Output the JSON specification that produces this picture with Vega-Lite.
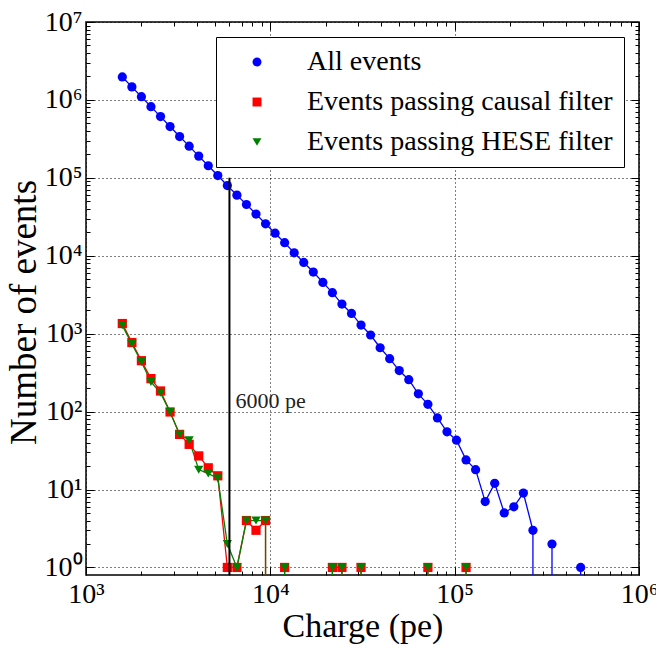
{
  "$schema": "https://vega.github.io/schema/vega-lite/v6.json",
  "width": 553,
  "height": 553,
  "autosize": "none",
  "padding": {"left": 86, "top": 22, "right": 17, "bottom": 73},
  "background": "white",
  "config": {
    "font": "Liberation Serif",
    "view": {"stroke": "black", "strokeWidth": 1.5},
    "axis": {
      "domain": false,
      "labelFont": "Liberation Serif",
      "titleFont": "Liberation Serif",
      "labelColor": "black",
      "titleColor": "black",
      "tickColor": "black",
      "tickWidth": 1,
      "titleFontWeight": "normal",
      "gridColor": "black",
      "gridDash": [1, 3],
      "gridOpacity": 1,
      "gridWidth": 1,
      "labelOverlap": false,
      "labelFlush": false
    },
    "legend": {
      "labelFont": "Liberation Serif", "labelColor": "black",
      "orient": "none", "legendX": 130, "legendY": 15, "title": null,
      "labelFontSize": 28, "padding": 11, "rowPadding": 12,
      "strokeColor": "black", "fillColor": "white", "cornerRadius": 0,
      "symbolSize": 80, "symbolOffset": 16, "labelOffset": 36, "labelLimit": 400,
      "symbolStrokeWidth": 0
    }
  },
  "data": {
    "values": [
      {"series": "All events", "bin": 0, "charge": 1574, "count": 1970000},
      {"series": "All events", "bin": 1, "charge": 1774, "count": 1470000},
      {"series": "All events", "bin": 2, "charge": 1998, "count": 1100000},
      {"series": "All events", "bin": 3, "charge": 2251, "count": 820000},
      {"series": "All events", "bin": 4, "charge": 2537, "count": 611000},
      {"series": "All events", "bin": 5, "charge": 2858, "count": 455000},
      {"series": "All events", "bin": 6, "charge": 3220, "count": 339000},
      {"series": "All events", "bin": 7, "charge": 3628, "count": 255000},
      {"series": "All events", "bin": 8, "charge": 4088, "count": 190000},
      {"series": "All events", "bin": 9, "charge": 4606, "count": 143000},
      {"series": "All events", "bin": 10, "charge": 5188, "count": 107000},
      {"series": "All events", "bin": 11, "charge": 5846, "count": 79600},
      {"series": "All events", "bin": 12, "charge": 6587, "count": 60000},
      {"series": "All events", "bin": 13, "charge": 7421, "count": 45500},
      {"series": "All events", "bin": 14, "charge": 8362, "count": 34300},
      {"series": "All events", "bin": 15, "charge": 9419, "count": 25700},
      {"series": "All events", "bin": 16, "charge": 10612, "count": 19500},
      {"series": "All events", "bin": 17, "charge": 11957, "count": 14700},
      {"series": "All events", "bin": 18, "charge": 13472, "count": 10900},
      {"series": "All events", "bin": 19, "charge": 15180, "count": 8200},
      {"series": "All events", "bin": 20, "charge": 17100, "count": 6180},
      {"series": "All events", "bin": 21, "charge": 19270, "count": 4550},
      {"series": "All events", "bin": 22, "charge": 21710, "count": 3360},
      {"series": "All events", "bin": 23, "charge": 24460, "count": 2400},
      {"series": "All events", "bin": 24, "charge": 27560, "count": 1820},
      {"series": "All events", "bin": 25, "charge": 31050, "count": 1290},
      {"series": "All events", "bin": 26, "charge": 34990, "count": 962},
      {"series": "All events", "bin": 27, "charge": 39420, "count": 660},
      {"series": "All events", "bin": 28, "charge": 44410, "count": 478},
      {"series": "All events", "bin": 29, "charge": 50040, "count": 336},
      {"series": "All events", "bin": 30, "charge": 56380, "count": 257},
      {"series": "All events", "bin": 31, "charge": 63530, "count": 169},
      {"series": "All events", "bin": 32, "charge": 71570, "count": 124},
      {"series": "All events", "bin": 33, "charge": 80640, "count": 83},
      {"series": "All events", "bin": 34, "charge": 90860, "count": 55},
      {"series": "All events", "bin": 35, "charge": 102300, "count": 43},
      {"series": "All events", "bin": 36, "charge": 115300, "count": 24},
      {"series": "All events", "bin": 37, "charge": 129900, "count": 18},
      {"series": "All events", "bin": 38, "charge": 146400, "count": 7},
      {"series": "All events", "bin": 39, "charge": 164900, "count": 12},
      {"series": "All events", "bin": 40, "charge": 185800, "count": 5},
      {"series": "All events", "bin": 41, "charge": 209400, "count": 6},
      {"series": "All events", "bin": 42, "charge": 235900, "count": 9},
      {"series": "All events", "bin": 43, "charge": 265800, "count": 3},
      {"series": "All events", "bin": 44, "charge": 299400, "count": null},
      {"series": "All events", "bin": 45, "charge": 337300, "count": 2},
      {"series": "All events", "bin": 46, "charge": 380100, "count": null},
      {"series": "All events", "bin": 47, "charge": 428200, "count": null},
      {"series": "All events", "bin": 48, "charge": 482500, "count": 1},

      {"series": "Events passing causal filter", "bin": 0, "charge": 1574, "count": 1350},
      {"series": "Events passing causal filter", "bin": 1, "charge": 1774, "count": 770},
      {"series": "Events passing causal filter", "bin": 2, "charge": 1998, "count": 450},
      {"series": "Events passing causal filter", "bin": 3, "charge": 2251, "count": 265},
      {"series": "Events passing causal filter", "bin": 4, "charge": 2537, "count": 184},
      {"series": "Events passing causal filter", "bin": 5, "charge": 2858, "count": 99},
      {"series": "Events passing causal filter", "bin": 6, "charge": 3220, "count": 51},
      {"series": "Events passing causal filter", "bin": 7, "charge": 3628, "count": 38},
      {"series": "Events passing causal filter", "bin": 8, "charge": 4088, "count": 27},
      {"series": "Events passing causal filter", "bin": 9, "charge": 4606, "count": 19},
      {"series": "Events passing causal filter", "bin": 10, "charge": 5188, "count": 15},
      {"series": "Events passing causal filter", "bin": 11, "charge": 5846, "count": 1},
      {"series": "Events passing causal filter", "bin": 12, "charge": 6587, "count": 1},
      {"series": "Events passing causal filter", "bin": 13, "charge": 7421, "count": 4},
      {"series": "Events passing causal filter", "bin": 14, "charge": 8362, "count": 3},
      {"series": "Events passing causal filter", "bin": 15, "charge": 9419, "count": 4},
      {"series": "Events passing causal filter", "bin": 16, "charge": 10612, "count": null},
      {"series": "Events passing causal filter", "bin": 17, "charge": 11957, "count": 1},
      {"series": "Events passing causal filter", "bin": 18, "charge": 13472, "count": null},
      {"series": "Events passing causal filter", "bin": 19, "charge": 15180, "count": null},
      {"series": "Events passing causal filter", "bin": 20, "charge": 17100, "count": null},
      {"series": "Events passing causal filter", "bin": 21, "charge": 19270, "count": null},
      {"series": "Events passing causal filter", "bin": 22, "charge": 21710, "count": 1},
      {"series": "Events passing causal filter", "bin": 23, "charge": 24460, "count": 1},
      {"series": "Events passing causal filter", "bin": 24, "charge": 27560, "count": null},
      {"series": "Events passing causal filter", "bin": 25, "charge": 31050, "count": 1},
      {"series": "Events passing causal filter", "bin": 26, "charge": 34990, "count": null},
      {"series": "Events passing causal filter", "bin": 27, "charge": 39420, "count": null},
      {"series": "Events passing causal filter", "bin": 28, "charge": 44410, "count": null},
      {"series": "Events passing causal filter", "bin": 29, "charge": 50040, "count": null},
      {"series": "Events passing causal filter", "bin": 30, "charge": 56380, "count": null},
      {"series": "Events passing causal filter", "bin": 31, "charge": 63530, "count": null},
      {"series": "Events passing causal filter", "bin": 32, "charge": 71570, "count": 1},
      {"series": "Events passing causal filter", "bin": 33, "charge": 80640, "count": null},
      {"series": "Events passing causal filter", "bin": 34, "charge": 90860, "count": null},
      {"series": "Events passing causal filter", "bin": 35, "charge": 102300, "count": null},
      {"series": "Events passing causal filter", "bin": 36, "charge": 115300, "count": 1},

      {"series": "Events passing HESE filter", "bin": 0, "charge": 1574, "count": 1280},
      {"series": "Events passing HESE filter", "bin": 1, "charge": 1774, "count": 740},
      {"series": "Events passing HESE filter", "bin": 2, "charge": 1998, "count": 434},
      {"series": "Events passing HESE filter", "bin": 3, "charge": 2251, "count": 240},
      {"series": "Events passing HESE filter", "bin": 4, "charge": 2537, "count": 174},
      {"series": "Events passing HESE filter", "bin": 5, "charge": 2858, "count": 99},
      {"series": "Events passing HESE filter", "bin": 6, "charge": 3220, "count": 51},
      {"series": "Events passing HESE filter", "bin": 7, "charge": 3628, "count": 43},
      {"series": "Events passing HESE filter", "bin": 8, "charge": 4088, "count": 18},
      {"series": "Events passing HESE filter", "bin": 9, "charge": 4606, "count": 16},
      {"series": "Events passing HESE filter", "bin": 10, "charge": 5188, "count": 14},
      {"series": "Events passing HESE filter", "bin": 11, "charge": 5846, "count": 2},
      {"series": "Events passing HESE filter", "bin": 12, "charge": 6587, "count": 1},
      {"series": "Events passing HESE filter", "bin": 13, "charge": 7421, "count": 4},
      {"series": "Events passing HESE filter", "bin": 14, "charge": 8362, "count": 4},
      {"series": "Events passing HESE filter", "bin": 15, "charge": 9419, "count": 4},
      {"series": "Events passing HESE filter", "bin": 16, "charge": 10612, "count": null},
      {"series": "Events passing HESE filter", "bin": 17, "charge": 11957, "count": 1},
      {"series": "Events passing HESE filter", "bin": 18, "charge": 13472, "count": null},
      {"series": "Events passing HESE filter", "bin": 19, "charge": 15180, "count": null},
      {"series": "Events passing HESE filter", "bin": 20, "charge": 17100, "count": null},
      {"series": "Events passing HESE filter", "bin": 21, "charge": 19270, "count": null},
      {"series": "Events passing HESE filter", "bin": 22, "charge": 21710, "count": 1},
      {"series": "Events passing HESE filter", "bin": 23, "charge": 24460, "count": 1},
      {"series": "Events passing HESE filter", "bin": 24, "charge": 27560, "count": null},
      {"series": "Events passing HESE filter", "bin": 25, "charge": 31050, "count": 1},
      {"series": "Events passing HESE filter", "bin": 26, "charge": 34990, "count": null},
      {"series": "Events passing HESE filter", "bin": 27, "charge": 39420, "count": null},
      {"series": "Events passing HESE filter", "bin": 28, "charge": 44410, "count": null},
      {"series": "Events passing HESE filter", "bin": 29, "charge": 50040, "count": null},
      {"series": "Events passing HESE filter", "bin": 30, "charge": 56380, "count": null},
      {"series": "Events passing HESE filter", "bin": 31, "charge": 63530, "count": null},
      {"series": "Events passing HESE filter", "bin": 32, "charge": 71570, "count": 1},
      {"series": "Events passing HESE filter", "bin": 33, "charge": 80640, "count": null},
      {"series": "Events passing HESE filter", "bin": 34, "charge": 90860, "count": null},
      {"series": "Events passing HESE filter", "bin": 35, "charge": 102300, "count": null},
      {"series": "Events passing HESE filter", "bin": 36, "charge": 115300, "count": 1}
    ]
  },
  "resolve": {"axis": {"x": "independent", "y": "independent"}},
  "layer": [
    {
      "mark": {"type": "line", "strokeWidth": 1.3, "clip": true},
      "encoding": {
        "x": {
          "field": "charge", "type": "quantitative",
          "scale": {"type": "log", "domain": [1000, 1000000], "nice": false},
          "axis": {
            "orient": "bottom", "values": [1000, 10000, 100000, 1000000],
            "labelExpr": "'10' + ['⁰','¹','²','³','⁴','⁵','⁶','⁷'][round(log(datum.value)/LN10)]",
            "grid": true, "tickSize": -8, "labelFontSize": 28, "labelPadding": 13,
            "title": "Charge (pe)", "titleFontSize": 34, "titlePadding": 1
          }
        },
        "y": {
          "field": "count", "type": "quantitative",
          "scale": {"type": "log", "domain": [0.8, 10000000], "nice": false},
          "axis": {
            "orient": "left", "values": [1, 10, 100, 1000, 10000, 100000, 1000000, 10000000],
            "labelExpr": "'10' + ['⁰','¹','²','³','⁴','⁵','⁶','⁷'][round(log(datum.value)/LN10)]",
            "grid": true, "tickSize": -8, "labelFontSize": 28, "labelPadding": 12,
            "title": "Number of events", "titleFontSize": 37,
            "titleX": -51, "titleY": 290, "titleBaseline": "alphabetic", "titleAlign": "center", "titleAngle": -90
          }
        },
        "stroke": {
          "field": "series", "type": "nominal",
          "scale": {"domain": ["All events", "Events passing causal filter", "Events passing HESE filter"], "range": ["#0000ff", "#ff0000", "#008000"]}
        }
      }
    },
    {
      "mark": {"type": "point", "filled": true, "opacity": 1, "size": 85, "clip": true},
      "encoding": {
        "x": {
          "field": "charge", "type": "quantitative",
          "scale": {"type": "log", "domain": [1000, 1000000], "nice": false},
          "axis": {
            "orient": "bottom", "values": [2000,3000,4000,5000,6000,7000,8000,9000,20000,30000,40000,50000,60000,70000,80000,90000,200000,300000,400000,500000,600000,700000,800000,900000],
            "labels": false, "grid": false, "tickSize": -4, "title": null
          }
        },
        "y": {
          "field": "count", "type": "quantitative",
          "scale": {"type": "log", "domain": [0.8, 10000000], "nice": false},
          "axis": {
            "orient": "left", "values": [2,3,4,5,6,7,8,9,20,30,40,50,60,70,80,90,200,300,400,500,600,700,800,900,2000,3000,4000,5000,6000,7000,8000,9000,20000,30000,40000,50000,60000,70000,80000,90000,200000,300000,400000,500000,600000,700000,800000,900000,2000000,3000000,4000000,5000000,6000000,7000000,8000000,9000000],
            "labels": false, "grid": false, "tickSize": -4, "title": null
          }
        },
        "color": {
          "field": "series", "type": "nominal",
          "scale": {"domain": ["All events", "Events passing causal filter", "Events passing HESE filter"], "range": ["#0000ff", "#ff0000", "#008000"]}
        },
        "shape": {
          "field": "series", "type": "nominal",
          "scale": {"domain": ["All events", "Events passing causal filter", "Events passing HESE filter"], "range": ["circle", "square", "triangle-down"]}
        },
        "order": {"field": "series", "sort": "descending"}
      }
    },
    {
      "transform": [
        {"window": [{"op": "lag", "field": "count", "as": "prev"}, {"op": "lead", "field": "count", "as": "next"}], "groupby": ["series"], "sort": [{"field": "bin"}]},
        {"filter": "datum.count != null && ((datum.prev == null && datum.bin > 0) || datum.next == null)"}
      ],
      "mark": {"type": "rule", "strokeWidth": 1.3, "clip": true},
      "encoding": {
        "x": {
          "field": "charge", "type": "quantitative",
          "scale": {"type": "log", "domain": [1000, 1000000], "nice": false},
          "axis": {"orient": "top", "values": [1000, 10000, 100000, 1000000], "labels": false, "grid": false, "tickSize": -8, "title": null}
        },
        "y": {
          "field": "count", "type": "quantitative",
          "scale": {"type": "log", "domain": [0.8, 10000000], "nice": false},
          "axis": {"orient": "right", "values": [1, 10, 100, 1000, 10000, 100000, 1000000, 10000000], "labels": false, "grid": false, "tickSize": -8, "title": null}
        },
        "y2": {"datum": 0.8},
        "stroke": {
          "field": "series", "type": "nominal",
          "scale": {"domain": ["All events", "Events passing causal filter", "Events passing HESE filter"], "range": ["#0000ff", "#ff0000", "#008000"]}
        },
        "order": {"field": "series", "sort": "descending"}
      }
    },
    {
      "data": {"values": [{"threshold": 6000, "top": 100000, "bottom": 0.8}]},
      "mark": {"type": "rule", "strokeWidth": 2, "color": "black"},
      "encoding": {
        "x": {
          "field": "threshold", "type": "quantitative",
          "scale": {"type": "log", "domain": [1000, 1000000], "nice": false},
          "axis": {"orient": "top", "values": [2000,3000,4000,5000,6000,7000,8000,9000,20000,30000,40000,50000,60000,70000,80000,90000,200000,300000,400000,500000,600000,700000,800000,900000], "labels": false, "grid": false, "tickSize": -4, "title": null}
        },
        "y": {
          "field": "bottom", "type": "quantitative",
          "scale": {"type": "log", "domain": [0.8, 10000000], "nice": false},
          "axis": {"orient": "right", "values": [2,3,4,5,6,7,8,9,20,30,40,50,60,70,80,90,200,300,400,500,600,700,800,900,2000,3000,4000,5000,6000,7000,8000,9000,20000,30000,40000,50000,60000,70000,80000,90000,200000,300000,400000,500000,600000,700000,800000,900000,2000000,3000000,4000000,5000000,6000000,7000000,8000000,9000000], "labels": false, "grid": false, "tickSize": -4, "title": null}
        },
        "y2": {"field": "top"}
      }
    },
    {
      "data": {"values": [{"x": 6480, "y": 135, "label": "6000 pe"}]},
      "mark": {"type": "text", "align": "left", "baseline": "middle", "fontSize": 22, "font": "Liberation Serif", "color": "#222222"},
      "encoding": {
        "x": {"field": "x", "type": "quantitative", "axis": null},
        "y": {"field": "y", "type": "quantitative", "axis": null},
        "text": {"field": "label"}
      }
    }
  ]
}
